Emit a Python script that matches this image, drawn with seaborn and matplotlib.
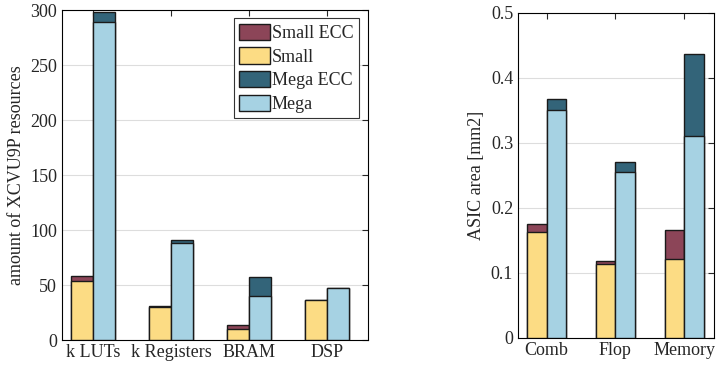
import pandas as pd
import seaborn as sns
import matplotlib.pyplot as plt
from matplotlib.patches import Patch
from matplotlib.ticker import FuncFormatter

# FPGA resources (left)
fpga_cats = ['k LUTs', 'k Registers', 'BRAM', 'DSP']
fpga_small = [54, 30, 10, 36]
fpga_small_ecc = [58, 31, 14, 36]
fpga_mega = [289, 88, 40, 47]
fpga_mega_ecc = [298, 91, 57, 47]

# ASIC area (right)
asic_cats = ['Comb', 'Flop', 'Memory']
asic_small = [0.163, 0.114, 0.122]
asic_small_ecc = [0.175, 0.119, 0.166]
asic_mega = [0.350, 0.255, 0.310]
asic_mega_ecc = [0.367, 0.270, 0.437]

c_small_ecc = '#8c4558'
c_small = '#fcdc84'
c_mega_ecc = '#336479'
c_mega = '#a6d2e3'
edge = '#1a1a1a'

sns.set_style('white')
plt.rcParams['font.family'] = ['Liberation Serif', 'DejaVu Serif']
plt.rcParams['font.size'] = 13


def long_df(cats, small, mega):
    return pd.DataFrame({
        'cat': cats * 2,
        'variant': ['Small'] * len(cats) + ['Mega'] * len(cats),
        'value': small + mega,
    })


def draw(ax, cats, small, small_ecc, mega, mega_ecc):
    tot = long_df(cats, small_ecc, mega_ecc)
    base = long_df(cats, small, mega)
    sns.barplot(data=tot, x='cat', y='value', hue='variant', ax=ax,
                palette={'Small': c_small_ecc, 'Mega': c_mega_ecc}, saturation=1,
                width=0.56, edgecolor=edge, linewidth=1, legend=False, zorder=3)
    sns.barplot(data=base, x='cat', y='value', hue='variant', ax=ax,
                palette={'Small': c_small, 'Mega': c_mega}, saturation=1,
                width=0.56, edgecolor=edge, linewidth=1, legend=False, zorder=3)
    ax.set_xlabel('')
    ax.yaxis.grid(True, color='#dddddd', linewidth=0.8, zorder=0)
    ax.set_axisbelow(True)
    ax.tick_params(direction='in', top=True, right=True, length=4, labelsize=13)
    ax.tick_params(axis='x', bottom=False, pad=3)
    for s in ax.spines.values():
        s.set_color('black')
        s.set_linewidth(0.8)


fig = plt.figure(figsize=(7.16, 3.72), dpi=100)
ax1 = fig.add_axes([0.0866, 0.086, 0.4274, 0.887])
ax2 = fig.add_axes([0.7235, 0.0914, 0.2735, 0.874])

draw(ax1, fpga_cats, fpga_small, fpga_small_ecc, fpga_mega, fpga_mega_ecc)
ax1.set_ylim(0, 300)
ax1.set_yticks(range(0, 301, 50))
ax1.set_xlim(-0.397, 3.526)
ax1.set_ylabel('amount of XCVU9P resources', fontsize=13)

draw(ax2, asic_cats, asic_small, asic_small_ecc, asic_mega, asic_mega_ecc)
ax2.set_ylim(0, 0.5)
ax2.set_yticks([0, 0.1, 0.2, 0.3, 0.4, 0.5])
ax2.yaxis.set_major_formatter(FuncFormatter(lambda v, p: f'{v:g}'))
ax2.set_xlim(-0.414, 2.43)
ax2.set_ylabel('ASIC area [mm2]', fontsize=13)

handles = [Patch(facecolor=c, edgecolor=edge, linewidth=1)
           for c in [c_small_ecc, c_small, c_mega_ecc, c_mega]]
leg = ax1.legend(handles, ['Small ECC', 'Small', 'Mega ECC', 'Mega'],
                 loc='upper right', fontsize=13, fancybox=False, framealpha=1,
                 edgecolor='#333333', handlelength=1.7, handleheight=1.0,
                 handletextpad=0.1, labelspacing=0.3, borderpad=0.3,
                 borderaxespad=0, bbox_to_anchor=(0.97, 0.975))
leg.get_frame().set_linewidth(0.8)

fig.savefig('out.png', dpi=100)
